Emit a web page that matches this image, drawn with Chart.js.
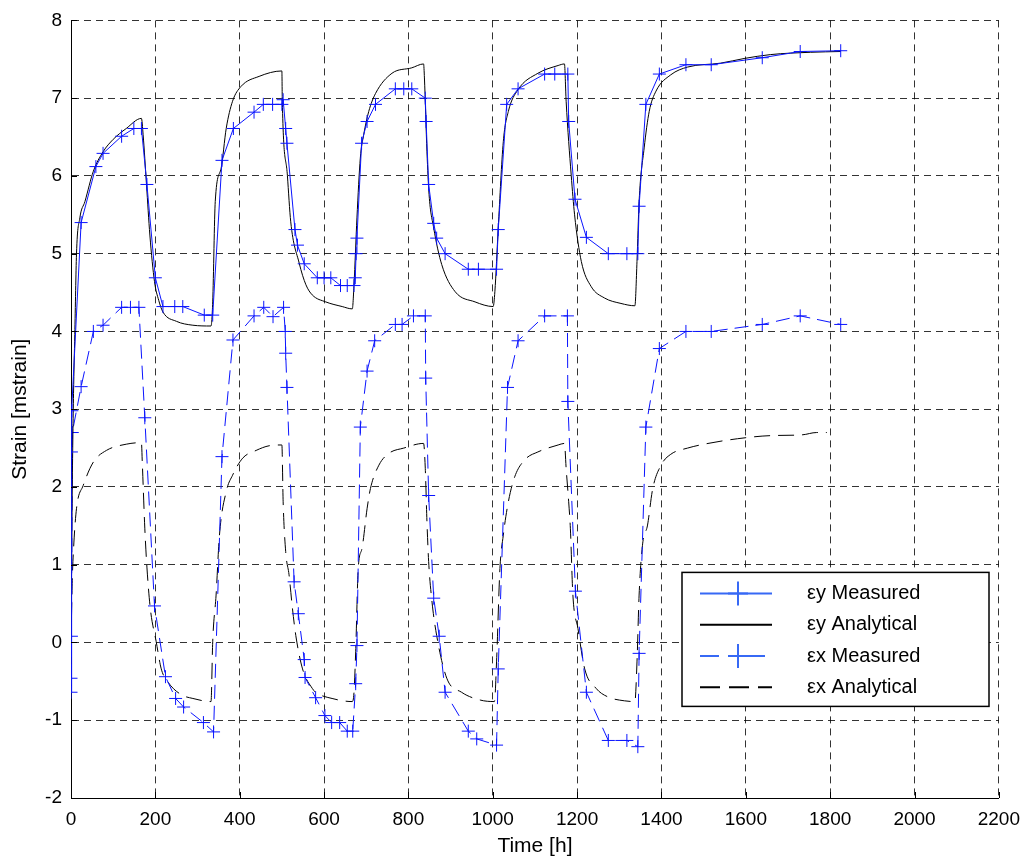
<!DOCTYPE html>
<html>
<head>
<meta charset="utf-8">
<script src="https://cdn.jsdelivr.net/npm/chart.js@4.4.1/dist/chart.umd.min.js"></script>
<style>
  html, body { margin: 0; padding: 0; background: #fff; }
  #wrap { width: 1030px; height: 865px; }
</style>
</head>
<body>
<div id="wrap"><canvas id="chart" width="1030" height="865"></canvas></div>
<script>
// time [h] / strain [mstrain]
const eyMeasT = [0, 1, 2, 24, 59, 76, 120, 149, 167, 180, 200, 218, 246, 265, 316, 336,
  358, 385, 434, 456, 478, 500, 503, 509, 512, 531, 537, 553, 584, 600, 616, 639, 655, 671,
  674, 676, 678, 689, 702, 722, 769, 789, 808, 840, 842, 848, 860, 867, 887, 942, 966, 1009,
  1013, 1033, 1060, 1123, 1147, 1178, 1180, 1195, 1222, 1274, 1318, 1344,
  1347, 1363, 1395, 1458, 1518, 1639, 1729, 1825];
const eyMeasV = [-0.64, 2.45, 2.98, 5.4, 6.12, 6.29, 6.51, 6.61, 6.61, 5.89, 4.69, 4.32, 4.32, 4.32, 4.21, 4.21,
  6.2, 6.61, 6.82, 6.92, 6.92, 6.92, 6.98, 6.61, 6.42, 5.31, 5.11, 4.87, 4.69, 4.69, 4.69, 4.59, 4.59, 4.59,
  4.69, 5.0, 5.2, 6.42, 6.70, 6.92, 7.12, 7.12, 7.12, 7.0, 6.70, 5.89, 5.39, 5.2, 5.0, 4.80, 4.80, 4.80,
  5.31, 6.92, 7.12, 7.31, 7.31, 7.31, 6.70, 5.70, 5.21, 5.0, 5.0, 5.0,
  5.61, 6.92, 7.31, 7.43, 7.43, 7.52, 7.60, 7.61];

const eyAnaT = [0, 3, 6, 9, 13, 21, 33, 53, 76, 100, 131, 167, 171, 179, 187, 198, 208, 218, 250, 289, 332,
  336, 342, 356, 368, 383, 403, 446, 500, 501, 513, 521, 541, 557, 572, 604, 643, 667,
  671, 678, 686, 694, 706, 722, 761, 808, 836, 838, 844, 849, 860, 879, 911, 958, 1001,
  1005, 1013, 1025, 1037, 1060, 1107, 1155, 1170, 1174, 1186, 1194, 1210, 1233, 1265, 1304, 1337,
  1342, 1347, 1359, 1371, 1387, 1422, 1462, 1540, 1596, 1658, 1753, 1825];
const eyAnaV = [0, 2.0, 3.2, 3.96, 4.99, 5.46, 5.67, 6.06, 6.31, 6.47, 6.61, 6.74, 6.53, 5.89, 5.24, 4.64, 4.40, 4.25, 4.13, 4.08, 4.07,
  4.38, 5.67, 6.10, 6.61, 6.96, 7.15, 7.28, 7.35, 6.96, 6.01, 5.41, 4.88, 4.60, 4.47, 4.38, 4.32, 4.29,
  4.60, 5.46, 6.23, 6.53, 6.83, 7.06, 7.32, 7.39, 7.44, 7.26, 6.31, 5.76, 5.33, 4.86, 4.51, 4.38, 4.32,
  4.51, 5.33, 6.44, 6.83, 7.11, 7.32, 7.42, 7.44, 6.96, 6.01, 5.50, 4.90, 4.58, 4.43, 4.36, 4.33,
  4.90, 5.67, 6.36, 6.83, 7.09, 7.30, 7.40, 7.45, 7.51, 7.56, 7.59, 7.60];

const exMeasT = [0, 1, 3, 24, 53, 76, 120, 141, 161, 175, 198, 224, 248, 267, 314, 338,
  358, 384, 434, 457, 479, 504, 508, 509, 512, 529, 539, 553, 555, 580, 602, 618, 637, 655, 668,
  675, 678, 686, 702, 720, 769, 785, 812, 840, 841, 848, 860, 873, 887, 942, 962, 1009,
  1013, 1035, 1060, 1123, 1177, 1178, 1196, 1222, 1274, 1318, 1344,
  1347, 1363, 1395, 1458, 1518, 1639, 1729, 1825];
const exMeasV = [-0.46, 0.08, 2.7, 3.29, 4.0, 4.08, 4.31, 4.31, 4.31, 2.89, 0.47, -0.44, -0.72, -0.83, -1.03, -1.15,
  2.39, 3.89, 4.2, 4.31, 4.19, 4.31, 4.0, 3.72, 3.28, 0.78, 0.37, -0.22, -0.45, -0.71, -0.94, -1.03, -1.03, -1.14, -1.14,
  -0.53, -0.04, 2.77, 3.49, 3.88, 4.09, 4.09, 4.2, 4.2, 3.40, 1.89, 0.57, 0.08, -0.64, -1.14, -1.24, -1.32,
  -0.34, 3.28, 3.88, 4.2, 4.2, 3.10, 0.66, -0.64, -1.26, -1.26, -1.34,
  -0.14, 2.77, 3.78, 4.0, 4.0, 4.09, 4.2, 4.09];

const exAnaT = [0, 3, 6, 13, 29, 53, 84, 131, 167, 169, 175, 180, 188, 202, 214, 230, 261, 289, 332,
  336, 344, 352, 368, 383, 407, 439, 470, 500, 503, 509, 517, 525, 533, 549, 572, 580, 619, 667,
  671, 675, 681, 690, 702, 710, 730, 753, 789, 836, 840, 844, 848, 856, 867, 891, 926, 970, 1004,
  1009, 1017, 1025, 1037, 1052, 1076, 1107, 1155, 1170, 1174, 1180, 1184, 1190, 1202, 1218, 1245, 1273, 1312, 1337,
  1342, 1347, 1355, 1367, 1379, 1399, 1422, 1462, 1501, 1580, 1658, 1733, 1768, 1792];
const exAnaV = [0, 0.8, 1.2, 1.72, 2.02, 2.32, 2.47, 2.55, 2.57, 2.32, 1.47, 0.97, 0.44, 0.01, -0.34, -0.51, -0.67, -0.72, -0.76,
  0.01, 0.61, 1.38, 1.94, 2.15, 2.37, 2.47, 2.53, 2.54, 1.81, 1.17, 0.87, 0.44, 0.09, -0.34, -0.59, -0.64, -0.72, -0.76,
  -0.64, -0.12, 0.95, 1.21, 1.72, 1.98, 2.28, 2.43, 2.50, 2.56, 2.24, 1.55, 1.04, 0.52, 0.09, -0.46, -0.64, -0.74, -0.76,
  -0.25, 0.95, 1.38, 1.81, 2.13, 2.35, 2.45, 2.54, 2.56, 2.24, 1.81, 1.47, 0.61, 0.18, -0.34, -0.59, -0.70, -0.75, -0.76,
  -0.25, 0.61, 1.25, 1.51, 1.97, 2.28, 2.42, 2.50, 2.55, 2.62, 2.66, 2.67, 2.70, 2.70];

const legendLabels = ['\u03b5y Measured', '\u03b5y Analytical', '\u03b5x Measured', '\u03b5x Analytical'];
const xTicks = [0, 200, 400, 600, 800, 1000, 1200, 1400, 1600, 1800, 2000, 2200];
const yTicks = [-2, -1, 0, 1, 2, 3, 4, 5, 6, 7, 8];

const FONT = "'Liberation Sans', Arial, Helvetica, sans-serif";
const BLUE = 'rgb(10,20,255)';

function pts(t, v) {
  return t.map((x, i) => ({ x: x, y: v[i] }));
}

// legend drawn inside the axes, matlab style
const boxLegend = {
  id: 'boxLegend',
  afterDraw(chart) {
    const ctx = chart.ctx;
    const a = chart.chartArea;
    const x0 = a.left + 611, y0 = a.top + 552, w = 307, h = 134;
    ctx.save();
    ctx.fillStyle = '#fff';
    ctx.fillRect(x0, y0, w, h);
    ctx.strokeStyle = '#000';
    ctx.lineWidth = 1.5;
    ctx.strokeRect(x0, y0, w, h);
    const lb = 'rgb(55,105,245)';
    legendLabels.forEach((txt, i) => {
      const yy = y0 + 21 + i * 31.3;
      const lx1 = x0 + 18, lx2 = x0 + 90, mx = x0 + 56;
      ctx.lineWidth = 2;
      ctx.strokeStyle = (i % 2 === 0) ? lb : '#000';
      ctx.setLineDash(i === 2 ? [19, 27] : (i === 3 ? [20, 9] : []));
      ctx.beginPath();
      ctx.moveTo(lx1, yy);
      ctx.lineTo(lx2, yy);
      ctx.stroke();
      ctx.setLineDash([]);
      if (i % 2 === 0) {
        ctx.beginPath();
        ctx.moveTo(mx - 10, yy); ctx.lineTo(mx + 10, yy);
        ctx.moveTo(mx, yy - 12); ctx.lineTo(mx, yy + 12);
        ctx.stroke();
      }
      ctx.fillStyle = '#000';
      ctx.font = '20px ' + FONT;
      ctx.textBaseline = 'middle';
      ctx.fillText(txt, x0 + 125, yy);
    });
    ctx.restore();
  }
};

// short inward tick marks on the bottom and left axes
const inTicks = {
  id: 'inTicks',
  afterDatasetsDraw(chart) {
    const ctx = chart.ctx;
    const a = chart.chartArea;
    const sx = chart.scales.x, sy = chart.scales.y;
    ctx.save();
    ctx.strokeStyle = '#000';
    ctx.lineWidth = 1;
    ctx.beginPath();
    xTicks.forEach(v => {
      const p = Math.round(sx.getPixelForValue(v)) + 0.5;
      ctx.moveTo(p, a.bottom); ctx.lineTo(p, a.bottom - 6);
    });
    yTicks.forEach(v => {
      const p = Math.round(sy.getPixelForValue(v)) + 0.5;
      ctx.moveTo(a.left, p); ctx.lineTo(a.left + 6, p);
    });
    ctx.stroke();
    ctx.restore();
  }
};

let chart = new Chart(document.getElementById('chart'), {
  type: 'line',
  data: {
    datasets: [
      {
        label: legendLabels[0],
        data: pts(eyMeasT, eyMeasV),
        borderColor: BLUE,
        borderWidth: 1,
        pointStyle: 'cross',
        pointRadius: 6.5,
        pointBorderWidth: 1,
        pointBorderColor: BLUE,
        tension: 0
      },
      {
        label: legendLabels[1],
        data: pts(eyAnaT, eyAnaV),
        borderColor: '#000',
        borderWidth: 1,
        pointRadius: 0,
        cubicInterpolationMode: 'monotone'
      },
      {
        label: legendLabels[2],
        data: pts(exMeasT, exMeasV),
        borderColor: BLUE,
        borderWidth: 1,
        borderDash: [14, 7],
        pointStyle: 'cross',
        pointRadius: 6.5,
        pointBorderWidth: 1,
        pointBorderColor: BLUE,
        tension: 0
      },
      {
        label: legendLabels[3],
        data: pts(exAnaT, exAnaV),
        borderColor: '#000',
        borderWidth: 1,
        borderDash: [16, 8],
        pointRadius: 0,
        cubicInterpolationMode: 'monotone'
      }
    ]
  },
  options: {
    responsive: false,
    animation: false,
    events: [],
    layout: { padding: { top: 19, right: 27, left: 0, bottom: 0 } },
    plugins: {
      legend: { display: false },
      tooltip: { enabled: false }
    },
    scales: {
      x: {
        type: 'linear',
        min: 0,
        max: 2200,
        afterFit: s => { s.height = 67; },
        afterBuildTicks: s => { s.ticks = xTicks.map(v => ({ value: v })); },
        grid: { color: 'rgba(0,0,0,0.8)', lineWidth: 1, drawTicks: false },
        border: { display: true, color: '#000', width: 1, dash: [7, 5] },
        ticks: { color: '#000', padding: 10, maxRotation: 0, font: { family: FONT, size: 19 }, callback: v => String(v) },
        title: { display: true, text: 'Time [h]', color: '#000', padding: { top: 0, bottom: 6 }, font: { family: FONT, size: 21 } }
      },
      y: {
        min: -2,
        max: 8,
        afterFit: s => { s.width = 71; },
        afterBuildTicks: s => { s.ticks = yTicks.map(v => ({ value: v })); },
        grid: { color: 'rgba(0,0,0,0.8)', lineWidth: 1, drawTicks: false },
        border: { display: true, color: '#000', width: 1, dash: [7, 5] },
        ticks: { color: '#000', padding: 9, font: { family: FONT, size: 19 }, callback: v => String(v) },
        title: { display: true, text: 'Strain [mstrain]', color: '#000', padding: { top: 8, bottom: 0 }, font: { family: FONT, size: 21 } }
      }
    }
  },
  plugins: [inTicks, boxLegend]
});
</script>
</body>
</html>
